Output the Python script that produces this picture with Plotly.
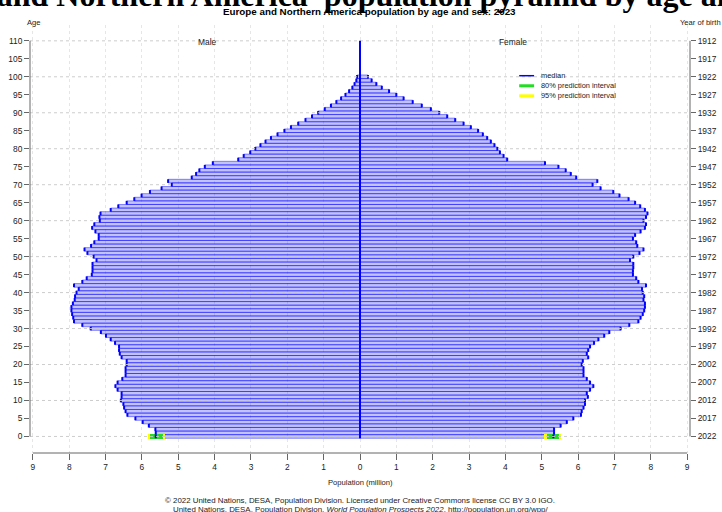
import plotly.graph_objects as go

# ---------------- data ----------------
ages = list(range(0, 101))

male = [5.62, 5.62, 5.63, 5.81, 5.98, 6.18, 6.40, 6.45, 6.49, 6.51,
        6.58, 6.56, 6.56, 6.67, 6.73, 6.67, 6.54, 6.45, 6.45, 6.45,
        6.42, 6.42, 6.56, 6.61, 6.63, 6.63, 6.74, 6.86, 6.99, 7.13,
        7.41, 7.64, 7.87, 7.89, 7.92, 7.94, 7.94, 7.90, 7.85, 7.84,
        7.80, 7.74, 7.87, 7.64, 7.52, 7.38, 7.36, 7.36, 7.36, 7.25,
        7.33, 7.50, 7.58, 7.40, 7.31, 7.19, 7.19, 7.28, 7.37, 7.31,
        7.16, 7.17, 7.14, 6.86, 6.65, 6.42, 6.21, 6.01, 5.78, 5.46,
        5.18, 5.28, 4.63, 4.51, 4.42, 4.27, 4.05, 3.35, 3.20, 3.02,
        2.88, 2.74, 2.60, 2.45, 2.27, 2.08, 1.90, 1.70, 1.50, 1.32,
        1.15, 0.97, 0.80, 0.65, 0.52, 0.40, 0.30, 0.21, 0.15, 0.10,
        0.08]

female = [5.32, 5.34, 5.34, 5.52, 5.69, 5.87, 6.08, 6.10, 6.15, 6.19,
          6.19, 6.27, 6.24, 6.33, 6.42, 6.33, 6.24, 6.15, 6.15, 6.15,
          6.10, 6.13, 6.28, 6.24, 6.28, 6.33, 6.44, 6.56, 6.72, 6.86,
          7.17, 7.41, 7.66, 7.72, 7.78, 7.82, 7.84, 7.84, 7.80, 7.82,
          7.78, 7.76, 7.87, 7.66, 7.60, 7.51, 7.51, 7.52, 7.52, 7.43,
          7.52, 7.69, 7.80, 7.63, 7.60, 7.51, 7.57, 7.72, 7.84, 7.87,
          7.80, 7.87, 7.91, 7.84, 7.71, 7.57, 7.39, 7.14, 6.97, 6.62,
          6.40, 6.53, 5.95, 5.80, 5.66, 5.46, 5.09, 4.05, 3.95, 3.85,
          3.78, 3.70, 3.60, 3.50, 3.38, 3.25, 3.05, 2.85, 2.62, 2.40,
          2.18, 1.95, 1.70, 1.45, 1.20, 1.00, 0.80, 0.60, 0.45, 0.32,
          0.22]

# prediction intervals (age 0 only)
pi_age = [0]
male_pi95 = [5.37, 5.84]
male_pi80 = [5.42, 5.78]
female_pi95 = [5.07, 5.53]
female_pi80 = [5.15, 5.47]

x_tickvals = [-9, -8, -7, -6, -5, -4, -3, -2, -1, 0, 1, 2, 3, 4, 5, 6, 7, 8, 9]
x_ticktext = ["9", "8", "7", "6", "5", "4", "3", "2", "1", "0",
              "1", "2", "3", "4", "5", "6", "7", "8", "9"]
age_ticks = [0, 5, 10, 15, 20, 25, 30, 35, 40, 45, 50, 55,
             60, 65, 70, 75, 80, 85, 90, 95, 100, 105, 110]
year_labels = ["2022", "2017", "2012", "2007", "2002", "1997", "1992", "1987",
               "1982", "1977", "1972", "1967", "1962", "1957", "1952", "1947",
               "1942", "1937", "1932", "1927", "1922", "1917", "1912"]
grid_ages = [0, 10, 20, 30, 40, 50, 60, 70, 80, 90, 100, 110]

# ---------------- styles ----------------
BLUE = "#0000ff"
BAR_FILL = "rgba(0,0,255,0.24)"
BAR_LINE = "rgba(0,0,255,0.55)"
GREEN = "#22dd22"
YELLOW = "#ffff00"
FONT = "Liberation Sans, Arial, sans-serif"
TXT = "#222222"

fig = go.Figure()

# bars
fig.add_trace(go.Bar(y=ages, x=[-v for v in male], orientation="h", width=1.0,
                     marker=dict(color=BAR_FILL, line=dict(color=BAR_LINE, width=0.8)),
                     showlegend=False, hoverinfo="skip"))
fig.add_trace(go.Bar(y=ages, x=female, orientation="h", width=1.0,
                     marker=dict(color=BAR_FILL, line=dict(color=BAR_LINE, width=0.8)),
                     showlegend=False, hoverinfo="skip"))

# prediction intervals
fig.add_trace(go.Bar(y=pi_age, base=[-male_pi95[1]], x=[male_pi95[1] - male_pi95[0]],
                     orientation="h", width=1.4, marker=dict(color=YELLOW, line=dict(width=0)),
                     showlegend=False, hoverinfo="skip"))
fig.add_trace(go.Bar(y=pi_age, base=[female_pi95[0]], x=[female_pi95[1] - female_pi95[0]],
                     orientation="h", width=1.4, marker=dict(color=YELLOW, line=dict(width=0)),
                     showlegend=False, hoverinfo="skip"))
fig.add_trace(go.Bar(y=pi_age, base=[-male_pi80[1]], x=[male_pi80[1] - male_pi80[0]],
                     orientation="h", width=1.4, marker=dict(color=GREEN, line=dict(width=0)),
                     showlegend=False, hoverinfo="skip"))
fig.add_trace(go.Bar(y=pi_age, base=[female_pi80[0]], x=[female_pi80[1] - female_pi80[0]],
                     orientation="h", width=1.4, marker=dict(color=GREEN, line=dict(width=0)),
                     showlegend=False, hoverinfo="skip"))

# median caps
cx, cy = [], []
for a, m, f in zip(ages, male, female):
    cx += [-m, -m, None, f, f, None]
    cy += [a - 0.5, a + 0.5, None, a - 0.5, a + 0.5, None]
fig.add_trace(go.Scatter(x=cx, y=cy, mode="lines", line=dict(color=BLUE, width=2),
                         showlegend=False, hoverinfo="skip"))

# invisible trace for right axis
fig.add_trace(go.Scatter(x=[0], y=[0], yaxis="y2", mode="markers",
                         marker=dict(opacity=0), showlegend=False, hoverinfo="skip"))

shapes = []
# horizontal grid lines (every 10 years of age)
for g in grid_ages:
    shapes.append(dict(type="line", xref="paper", x0=0, x1=1, yref="y", y0=g, y1=g,
                       line=dict(color="rgba(200,200,200,0.9)", width=1, dash="dot"),
                       layer="above"))
# central line
shapes.append(dict(type="line", xref="x", x0=0, x1=0, yref="y", y0=-0.5, y1=110,
                   line=dict(color=BLUE, width=2), layer="above"))
# axis lines
shapes.append(dict(type="line", xref="paper", x0=0, x1=0, yref="y", y0=0, y1=110,
                   line=dict(color="#666666", width=1)))
shapes.append(dict(type="line", xref="paper", x0=1, x1=1, yref="y", y0=0, y1=110,
                   line=dict(color="#666666", width=1)))
shapes.append(dict(type="line", xref="x", x0=-9, x1=9, yref="paper", y0=0, y1=0,
                   line=dict(color="#666666", width=1)))
# legend lines
leg_y = [100.3, 97.5, 94.7]
leg_col = [BLUE, GREEN, YELLOW]
leg_w = [1.5, 3, 3]
leg_txt = ["median", "80% prediction interval", "95% prediction interval"]
for yy, c, w in zip(leg_y, leg_col, leg_w):
    shapes.append(dict(type="line", xref="x", x0=4.38, x1=4.79, yref="y", y0=yy, y1=yy,
                       line=dict(color=c, width=w), layer="above"))

annotations = []
for yy, t in zip(leg_y, leg_txt):
    annotations.append(dict(x=4.93, y=yy, xref="x", yref="y", text=t, showarrow=False,
                            xanchor="left", yanchor="middle",
                            font=dict(family=FONT, size=7.4, color=TXT)))

annotations += [
    dict(x=(-114 - 30) / 660, y=(453 - 14.9) / 428, xref="paper", yref="paper",
         text="<b>Europe and Northern America\u00a0 population pyramid by age and sex</b>",
         showarrow=False, xanchor="left", yanchor="bottom",
         font=dict(family="Liberation Serif, Times New Roman, serif", size=32, color="#000000")),
    dict(x=0.515, y=(453 - 12) / 428, xref="paper", yref="paper",
         text="<b>Europe and Northern America population by age and sex: 2023</b>",
         showarrow=False, xanchor="center", yanchor="middle",
         font=dict(family=FONT, size=9.8, color="#000000")),
    dict(x=(34 - 30) / 660, y=(453 - 22) / 428, xref="paper", yref="paper", text="Age",
         showarrow=False, xanchor="center", yanchor="middle",
         font=dict(family=FONT, size=7.6, color=TXT)),
    dict(x=(700 - 30) / 660, y=(453 - 22) / 428, xref="paper", yref="paper", text="Year of birth",
         showarrow=False, xanchor="center", yanchor="middle",
         font=dict(family=FONT, size=7.6, color=TXT)),
    dict(x=-4.2, y=109.6, xref="x", yref="y", text="Male", showarrow=False,
         xanchor="center", yanchor="middle", font=dict(family=FONT, size=8.4, color=TXT)),
    dict(x=4.2, y=109.6, xref="x", yref="y", text="Female", showarrow=False,
         xanchor="center", yanchor="middle", font=dict(family=FONT, size=8.4, color=TXT)),
    dict(x=0.5, y=-(482 - 453) / 428, xref="paper", yref="paper", text="Population (million)",
         showarrow=False, xanchor="center", yanchor="middle",
         font=dict(family=FONT, size=7.6, color=TXT)),
    dict(x=0.5, y=-(500 - 453) / 428, xref="paper", yref="paper",
         text="© 2022 United Nations, DESA, Population Division. Licensed under Creative Commons license CC BY 3.0 IGO.",
         showarrow=False, xanchor="center", yanchor="middle",
         font=dict(family=FONT, size=7.9, color=TXT)),
    dict(x=0.5, y=-(510 - 453) / 428, xref="paper", yref="paper",
         text="United Nations, DESA, Population Division. <i>World Population Prospects 2022</i>. http://population.un.org/wpp/",
         showarrow=False, xanchor="center", yanchor="middle",
         font=dict(family=FONT, size=7.9, color=TXT)),
]

fig.update_layout(
    template="none",
    width=722, height=512,
    margin=dict(l=30, r=32, t=25, b=59, autoexpand=False),
    paper_bgcolor="white", plot_bgcolor="white",
    barmode="overlay", bargap=0,
    showlegend=False,
    hovermode=False,
    xaxis=dict(range=[-9.08, 9.08], tickmode="array", tickvals=x_tickvals, ticktext=x_ticktext,
               ticks="outside", ticklen=6, tickcolor="#666666", tickwidth=1,
               showline=False, zeroline=False, showgrid=True, gridcolor="#e6e6e6",
               griddash="dot", gridwidth=1, automargin=False,
               tickfont=dict(family=FONT, size=8.4, color=TXT)),
    yaxis=dict(range=[-4.6, 114.4], tickmode="array", tickvals=age_ticks,
               ticktext=[str(a) for a in age_ticks],
               ticks="outside", ticklen=5, tickcolor="#666666", tickwidth=1,
               showline=False, zeroline=False, showgrid=False, automargin=False,
               tickfont=dict(family=FONT, size=8.4, color=TXT)),
    yaxis2=dict(range=[-4.6, 114.4], overlaying="y", side="right", tickmode="array",
                tickvals=age_ticks, ticktext=year_labels,
                ticks="outside", ticklen=5, tickcolor="#666666", tickwidth=1,
                showline=False, zeroline=False, showgrid=False, automargin=False,
                tickfont=dict(family=FONT, size=8.4, color=TXT)),
    shapes=shapes,
    annotations=annotations,
)

fig.write_html("out.html",
               config={"displayModeBar": False, "staticPlot": True},
               post_script="document.body.style.margin='0';document.body.style.overflow='hidden';")
